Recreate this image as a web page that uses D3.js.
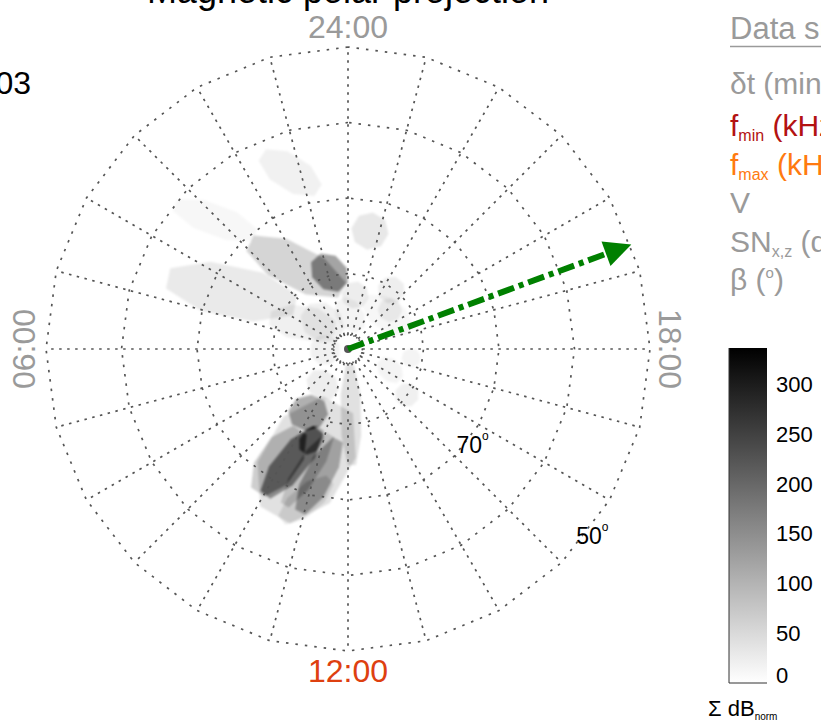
<!DOCTYPE html>
<html>
<head>
<meta charset="utf-8">
<script src="https://cdn.jsdelivr.net/npm/d3@7"></script>
<style>
  html, body { margin: 0; padding: 0; background: #fff; }
  svg { display: block; font-family: "Liberation Sans", Arial, sans-serif; }
</style>
</head>
<body>
<svg id="chart" width="821" height="723"></svg>
<script>
// ---- data -------------------------------------------------------------
// Magnetic local time labels around the map
const mltLabels = [
  { mlt: 24, text: "24:00" },
  { mlt: 18, text: "18:00" },
  { mlt: 12, text: "12:00" },
  { mlt: 6,  text: "06:00" }
];
// Latitude rings of the grid (degrees) and the labelled ones
const gridLats = [80, 70, 60, 50];
const innerLat = 88.1;
const labelledLats = [70, 50];
const latLabelMlt = 15.5;
// Meridians every hour of MLT
const meridianMlts = d3.range(0, 24, 1);

// Ray footprints: long axis from (mlt1, lat1) to (mlt2, lat2),
// half-width in degrees, and normalised intensity (dB)
const footMlt1 = [11.33, 9.96, 10.65, 10.70, 11.58, 9.33, 11.48, 11.21,
                  1.29, 2.85, 4.57, 1.59, 3.35, 4.55, 3.19,
                  23.63, 22.14, 0.0, 21.6, 22.73,
                  15.54, 17.53, 12.47,
                  4.98, 8.29, 16.73, 0.62];
const footLat1 = [82.5, 77.5, 78.6, 78.9, 77.9, 78.1, 72.5, 78.4,
                  77.2, 70.9, 64.4, 61.9, 60.2, 78.9, 82.3,
                  73.5, 80.1, 82.2, 82.8, 83.1,
                  81.4, 82.5, 87.9,
                  85.5, 83.9, 85.5, 83.4];
const footMlt2 = [10.42, 9.85, 10.03, 10.43, 10.91, 10.64, 10.59, 10.53,
                  0.31, 0.39, 3.35, 0.71, 2.61, 2.12, 1.98,
                  22.94, 21.0, 22.94, 20.21, 19.14,
                  15.41, 17.41, 12.13,
                  8.68, 10.95, 15.95, 21.85];
const footLat2 = [66.0, 67.6, 67.8, 75.1, 67.5, 81.7, 65.7, 67.7,
                  81.8, 82.15, 80.9, 68.6, 70.5, 86.7, 87.9,
                  74.6, 80.3, 83.25, 81.8, 81.4,
                  78.8, 80.6, 74.6,
                  87.75, 83.7, 82.0, 87.0];
const footWidth = [5.5, 2.6, 2.0, 1.4, 1.8, 2.2, 1.8, 1.5,
                   2.1, 2.7, 3.3, 2.2, 2.0, 2.2, 2.4,
                   2.3, 1.7, 1.7, 1.5, 2.0,
                   1.5, 1.2, 1.3,
                   1.9, 1.8, 1.4, 1.7];
const footValue = [40, 65, 115, 75, 85, 105, 30, 45,
                   120, 55, 28, 18, 10, 20, 20,
                   30, 22, 24, 20, 10,
                   20, 15, 40,
                   18, 22, 14, 15];

// Propagation direction arrow (MLT of the heading)
const arrowMlt = 19.35;
const arrowLatEnd = 50;

// Colour bar
const colorMax = 337;
const colorTicks = [0, 50, 100, 150, 200, 250, 300];

// Data-summary panel rows
const panelRows = [
  { main: "\u03B4t (min)", sub: null, rest: null, color: "#9a9a9a" },
  { main: "f", sub: "min", rest: " (kHz)", color: "#b31212" },
  { main: "f", sub: "max", rest: " (kHz)", color: "#ff7a10" },
  { main: "V", sub: null, rest: null, color: "#9a9a9a" },
  { main: "SN", sub: "x,z", rest: " (dB)", color: "#9a9a9a" },
  { main: "\u03B2 (", sup: "o", rest: ")", color: "#9a9a9a" }
];

// ---- layout -------------------------------------------------------------
const W = 821, H = 723;
const cx = 348, cy = 349, outerR = 302;

const svg = d3.select("#chart");

const rScale = d3.scaleLinear().domain([90, 50]).range([0, outerR]);
const aScale = d3.scaleLinear().domain([24, 0]).range([0, 2 * Math.PI]);
const project = (mlt, lat) => {
  const p = d3.pointRadial(aScale(mlt), rScale(lat));
  return [cx + p[0], cy + p[1]];
};

const color = d3.scaleLinear().domain([0, colorMax]).range(["#ffffff", "#000000"]).clamp(true);

// ---- accumulated footprint intensity (additive) -------------------------
const canvas = document.createElement("canvas");
canvas.width = W; canvas.height = H;
const ctx = canvas.getContext("2d");
ctx.fillStyle = "#000";
ctx.fillRect(0, 0, W, H);
ctx.globalCompositeOperation = "lighter";
ctx.filter = "blur(1.2px)";

const footprints = footValue.map((v, i) => ({
  p1: project(footMlt1[i], footLat1[i]),
  p2: project(footMlt2[i], footLat2[i]),
  w: footWidth[i] * (outerR / 40),
  v
}));

footprints.forEach(f => {
  const dx = f.p2[0] - f.p1[0], dy = f.p2[1] - f.p1[1];
  const len = Math.hypot(dx, dy) || 1;
  const ux = dx / len, uy = dy / len;
  const nx = -uy, ny = ux;
  const mx = (f.p1[0] + f.p2[0]) / 2, my = (f.p1[1] + f.p2[1]) / 2;
  const L = Math.max(len / 2, f.w);
  const k = 1 / Math.cos(Math.PI / 8);
  const pts = d3.range(8).map(j => {
    const t = Math.PI / 8 + j * Math.PI / 4;
    const a = L * Math.cos(t) * k, b = f.w * Math.sin(t) * k;
    return [mx + ux * a + nx * b, my + uy * a + ny * b];
  });
  const lvl = Math.round(f.v / colorMax * 255);
  ctx.fillStyle = `rgb(${lvl},${lvl},${lvl})`;
  ctx.beginPath();
  pts.forEach((p, j) => j ? ctx.lineTo(p[0], p[1]) : ctx.moveTo(p[0], p[1]));
  ctx.closePath();
  ctx.fill();
});

// map summed intensity through the colour scale
const img = ctx.getImageData(0, 0, W, H);
const lut = d3.range(256).map(l => d3.color(color(l / 255 * colorMax)));
for (let i = 0; i < img.data.length; i += 4) {
  const l = img.data[i];
  const c = lut[l];
  img.data[i] = c.r; img.data[i + 1] = c.g; img.data[i + 2] = c.b;
  img.data[i + 3] = l === 0 ? 0 : 255;
}
ctx.globalCompositeOperation = "source-over";
ctx.filter = "none";
ctx.putImageData(img, 0, 0);

svg.append("image")
  .attr("x", 0).attr("y", 0).attr("width", W).attr("height", H)
  .attr("href", canvas.toDataURL());

// ---- grid ---------------------------------------------------------------
const grid = svg.append("g")
  .attr("fill", "none")
  .attr("stroke", "#555")
  .attr("stroke-width", 1.7);

const hourPts = lat => d3.range(0, 25).map(h => project(h, lat));
const line = d3.line();

grid.selectAll("path.ring")
  .data(gridLats)
  .join("path")
  .attr("class", "ring")
  .attr("stroke-dasharray", "2.5,7")
  .attr("d", lat => line(hourPts(lat)));

grid.append("circle")
  .attr("cx", cx).attr("cy", cy)
  .attr("r", rScale(innerLat))
  .attr("stroke-dasharray", "1.5,1.8");

grid.selectAll("line.meridian")
  .data(meridianMlts)
  .join("line")
  .attr("class", "meridian")
  .attr("stroke-dasharray", "2.5,5.5")
  .attr("x1", m => project(m, innerLat)[0])
  .attr("y1", m => project(m, innerLat)[1])
  .attr("x2", m => project(m, 50)[0])
  .attr("y2", m => project(m, 50)[1]);

// latitude labels
const latLab = svg.selectAll("text.latlab")
  .data(labelledLats)
  .join("text")
  .attr("class", "latlab")
  .attr("font-size", 23)
  .attr("text-anchor", "middle")
  .attr("dominant-baseline", "central")
  .attr("fill", "#000")
  .attr("transform", lat => {
    const p = d3.pointRadial(aScale(latLabelMlt), rScale(lat) + 6);
    return `translate(${cx + p[0]},${cy + p[1]})`;
  });
latLab.append("tspan").text(d => d);
latLab.append("tspan").attr("font-size", 12).attr("dy", -9).text("o");

// ---- arrow --------------------------------------------------------------
const tip = project(arrowMlt, arrowLatEnd);
const headLen = 27, headHalf = 13;
const adx = tip[0] - cx, ady = tip[1] - cy;
const alen = Math.hypot(adx, ady);
const aux = adx / alen, auy = ady / alen;
const base = [tip[0] - aux * headLen, tip[1] - auy * headLen];

svg.append("circle")
  .attr("cx", cx).attr("cy", cy).attr("r", 4)
  .attr("fill", "#555");

svg.append("line")
  .attr("x1", cx).attr("y1", cy)
  .attr("x2", base[0]).attr("y2", base[1])
  .attr("stroke", "#008000")
  .attr("stroke-width", 6)
  .attr("stroke-dasharray", "17,5,5,5");

svg.append("path")
  .attr("fill", "#008000")
  .attr("d", d3.line()([
    tip,
    [base[0] - auy * headHalf, base[1] + aux * headHalf],
    [base[0] + auy * headHalf, base[1] - aux * headHalf]
  ]) + "Z");

// ---- MLT labels ---------------------------------------------------------
const mltPos = {
  24: { x: cx, y: 38, rot: 0, color: "#9a9a9a" },
  12: { x: cx, y: 682, rot: 0, color: "#de4010" },
  6:  { x: 35, y: cy, rot: -90, color: "#9a9a9a" },
  18: { x: 659, y: cy, rot: 90, color: "#9a9a9a" }
};
svg.selectAll("text.mlt")
  .data(mltLabels)
  .join("text")
  .attr("class", "mlt")
  .attr("font-size", 32)
  .attr("text-anchor", "middle")
  .attr("fill", d => mltPos[d.mlt].color)
  .attr("transform", d => `translate(${mltPos[d.mlt].x},${mltPos[d.mlt].y}) rotate(${mltPos[d.mlt].rot})`)
  .text(d => d.text);

// ---- title and date ---------------------------------------------------
svg.append("text")
  .attr("x", cx).attr("y", 3)
  .attr("font-size", 36)
  .attr("text-anchor", "middle")
  .attr("fill", "#000")
  .text("Magnetic polar projection");

svg.append("text")
  .attr("x", 31).attr("y", 94)
  .attr("font-size", 32)
  .attr("text-anchor", "end")
  .attr("fill", "#000")
  .text("2003-11-03");

// ---- data-summary panel -------------------------------------------------
const px = 730;
svg.append("text")
  .attr("x", px).attr("y", 39)
  .attr("font-size", 31)
  .attr("fill", "#9a9a9a")
  .text("Data summary");
svg.append("line")
  .attr("x1", px).attr("x2", W).attr("y1", 46.5).attr("y2", 46.5)
  .attr("stroke", "#9a9a9a").attr("stroke-width", 1.5);

const rowY = [94, 136, 175, 213, 252, 290];
panelRows.forEach((r, i) => {
  const t = svg.append("text")
    .attr("x", px).attr("y", rowY[i])
    .attr("font-size", 30)
    .attr("fill", r.color);
  t.append("tspan").text(r.main);
  if (r.sub) t.append("tspan").attr("font-size", 16).attr("dy", 5).text(r.sub);
  if (r.sup) t.append("tspan").attr("font-size", 15).attr("dy", -12).text(r.sup);
  if (r.rest) t.append("tspan").attr("dy", r.sub ? -5 : (r.sup ? 12 : 0)).text(r.rest);
});

// ---- colour bar -----------------------------------------------------------
const barX = 729, barW = 38;
const yBar = d3.scaleLinear().domain([0, colorMax]).range([683, 348]);

const grad = svg.append("defs").append("linearGradient")
  .attr("id", "cbar")
  .attr("x1", 0).attr("y1", 1).attr("x2", 0).attr("y2", 0);
grad.selectAll("stop")
  .data(d3.range(0, 1.0001, 0.1))
  .join("stop")
  .attr("offset", d => d)
  .attr("stop-color", d => color(d * colorMax));

svg.append("rect")
  .attr("x", barX).attr("y", yBar(colorMax))
  .attr("width", barW).attr("height", yBar(0) - yBar(colorMax))
  .attr("fill", "url(#cbar)");
svg.append("path")
  .attr("fill", "none").attr("stroke", "#333").attr("stroke-width", 1)
  .attr("d", `M${barX},${yBar(colorMax)}V${yBar(0)}H${barX + barW}`);

svg.selectAll("text.ctick")
  .data(colorTicks)
  .join("text")
  .attr("class", "ctick")
  .attr("x", 776)
  .attr("y", d => Math.min(yBar(d), yBar(0) - 8))
  .attr("dominant-baseline", "central")
  .attr("font-size", 22)
  .attr("fill", "#000")
  .text(d => d);

const cl = svg.append("text")
  .attr("x", 708).attr("y", 716)
  .attr("font-size", 22)
  .attr("fill", "#000");
cl.append("tspan").text("\u03A3 dB");
cl.append("tspan").attr("font-size", 10).attr("dy", 4).text("norm");
</script>
</body>
</html>
